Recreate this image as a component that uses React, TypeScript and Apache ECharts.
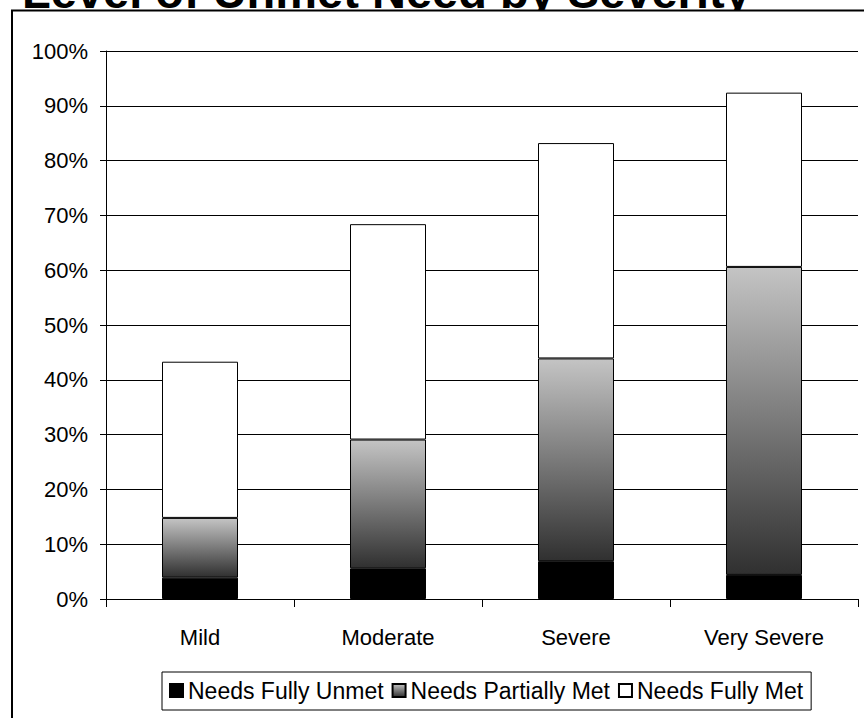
import React, { useEffect, useRef } from "react";
import * as echarts from "echarts";

const TITLE = "Level of Unmet Need by Severity";
const categories = ["Mild", "Moderate", "Severe", "Very Severe"];
const seriesNames = ["Needs Fully Unmet", "Needs Partially Met", "Needs Fully Met"];
const fullyUnmet = [3.9, 5.6, 6.9, 4.4];
const partiallyMet = [10.9, 23.5, 37.0, 56.2];
const fullyMet = [28.5, 39.3, 39.3, 31.8];

const FONT = '"Liberation Sans", Arial, Helvetica, sans-serif';

export default function App() {
  const ref = useRef<HTMLDivElement>(null);
  useEffect(() => {
    if (!ref.current) return;
    const chart = echarts.init(ref.current, undefined, { renderer: "svg" });
    const gradient = new echarts.graphic.LinearGradient(0, 0, 0, 1, [
      { offset: 0, color: "#c4c4c4" },
      { offset: 1, color: "#303030" },
    ]);
    const barBase = {
      type: "bar" as const,
      stack: "total",
      barWidth: 76,
      silent: true,
    };
    chart.setOption({
      animation: false,
      backgroundColor: "#ffffff",
      textStyle: { fontFamily: FONT, color: "#000" },
      graphic: [
        {
          type: "text",
          z: -20,
          silent: true,
          style: {
            text: TITLE,
            x: 22,
            y: -9,
            fill: "#000",
            font: `bold 47px ${FONT}`,
            verticalAlign: "middle",
            align: "left",
          },
        },
        {
          type: "rect",
          z: -10,
          silent: true,
          shape: { x: 12, y: 10.5, width: 1000, height: 1000 },
          style: { fill: "#ffffff", stroke: "#000000", lineWidth: 2 },
        },
      ],
      grid: { left: 106, right: 6, top: 51, bottom: 119, containLabel: false },
      legend: {
        left: 162,
        top: 672,
        orient: "horizontal",
        icon: "rect",
        itemWidth: 13,
        itemHeight: 13,
        itemGap: 8,
        padding: [7, 8, 8, 7],
        borderColor: "#000",
        borderWidth: 1,
        backgroundColor: "#fff",
        selectedMode: false,
        textStyle: { fontFamily: FONT, fontSize: 23, color: "#000" },
        data: seriesNames,
      },
      xAxis: {
        type: "category",
        data: categories,
        boundaryGap: true,
        axisLine: { show: true, lineStyle: { color: "#000", width: 1 } },
        axisTick: { show: true, alignWithLabel: false, length: 8, lineStyle: { color: "#000" } },
        axisLabel: { fontFamily: FONT, fontSize: 22, color: "#000", margin: 27 },
        splitLine: { show: false },
      },
      yAxis: {
        type: "value",
        min: 0,
        max: 100,
        interval: 10,
        axisLine: { show: true, lineStyle: { color: "#000", width: 1 } },
        axisTick: { show: true, length: 6, lineStyle: { color: "#000" } },
        axisLabel: {
          formatter: "{value}%",
          fontFamily: FONT,
          fontSize: 22,
          color: "#000",
          margin: 18,
        },
        splitLine: { show: true, lineStyle: { color: "#000", width: 1 } },
      },
      series: [
        {
          ...barBase,
          name: seriesNames[0],
          data: fullyUnmet,
          itemStyle: { color: "#000000", borderColor: "#000", borderWidth: 1 },
        },
        {
          ...barBase,
          name: seriesNames[1],
          data: partiallyMet,
          itemStyle: { color: gradient, borderColor: "#000", borderWidth: 1 },
        },
        {
          ...barBase,
          name: seriesNames[2],
          data: fullyMet,
          itemStyle: { color: "#ffffff", borderColor: "#000", borderWidth: 1 },
        },
      ],
    });
    return () => chart.dispose();
  }, []);
  return (
    <div
      ref={ref}
      style={{ position: "absolute", left: 0, top: 0, width: 864, height: 718 }}
    />
  );
}
